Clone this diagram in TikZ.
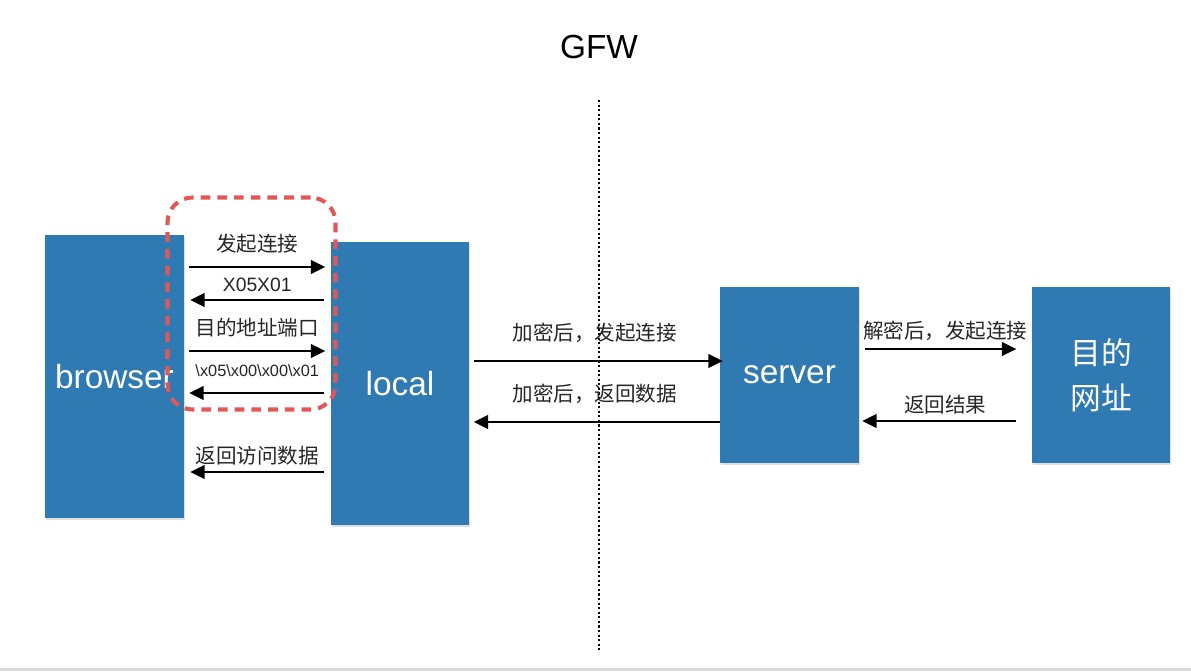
\documentclass[tikz,border=0pt]{standalone}
\usepackage{fontspec}
\setmainfont{Liberation Sans}
\newfontfamily\cjk{Noto Sans CJK SC}
\usetikzlibrary{arrows.meta,positioning,shadows}
\definecolor{boxblue}{RGB}{47,122,178}
\definecolor{dashred}{RGB}{226,88,86}

\begin{document}
\begin{tikzpicture}[node distance=3cm,on grid,
  box/.style={fill=boxblue,text=white,inner sep=0pt,minimum width=2.77cm,font=\fontsize{19}{23}\selectfont,
    drop shadow={opacity=0.25,shadow xshift=0.5pt,shadow yshift=-0.9pt}},
  arr/.style={line width=1.5pt,-{Triangle[length=2.9mm,width=2.7mm]}},
  lbl/.style={text=black!85,font=\cjk\fontsize{11.7}{14}\selectfont},
  hex/.style={text=black!85,font=\fontsize{11}{13}\selectfont},
  hilite/.style={draw=dashred,line width=2.3pt,dash pattern=on 5.5pt off 4pt,rounded corners=0.5cm}]
   \useasboundingbox (0,0) rectangle (23.82,-13.42);
   \fill[black!14] (0,-13.35) rectangle (23.82,-13.42);
   \node[font=\fontsize{19}{23}\selectfont] (gfw) at (11.98,-0.94) {GFW};
   \coordinate (gtop) at (11.98,-2.0);
   \coordinate (gbot) at (11.98,-13.0);
   \draw[line width=1.1pt,dash pattern=on 1.2pt off 1.4pt] (gtop) -- (gbot);
   \node[box,minimum height=5.66cm] (browser) at (2.29,-7.53) {browser};
   \node[box,minimum height=5.66cm] (local) [below right=0.14cm and 5.71cm of browser] {local};
   \node[box,minimum height=3.52cm,text height=1em,text depth=0pt] (server) [above right=0.17cm and 7.79cm of local] {server};
   \node[box,minimum height=3.52cm,align=center,font=\cjk\fontsize{17.5}{25.5}\selectfont] (target) [right=6.23cm of server] {目的\\网址};
   \node[hilite,minimum width=3.36cm,minimum height=4.24cm] (hl) at (5.03,-6.07) {};
   \coordinate (r1) at (0,-5.34);
   \coordinate (r2) at (0,-6.00);
   \coordinate (r3) at (0,-7.02);
   \coordinate (r4) at (0,-7.86);
   \coordinate (r5) at (0,-9.44);
   \coordinate (m1) at (0,-7.22);
   \coordinate (m2) at (0,-8.44);
   \coordinate (s1) at (0,-6.98);
   \coordinate (s2) at (0,-8.42);
   \draw[arr,shorten <=1mm,shorten >=1mm] (browser.east |- r1) -- node[lbl,above=1.25mm] {发起连接} (local.west |- r1);
   \draw[arr,shorten <=1.2mm,shorten >=1.2mm] (local.west |- r2) -- node[hex,above=0.3mm] {X05X01} (browser.east |- r2);
   \draw[arr,shorten <=1mm,shorten >=1mm] (browser.east |- r3) -- node[lbl,above=1.25mm] {目的地址端口} (local.west |- r3);
   \draw[arr,shorten <=1.2mm,shorten >=1mm] (local.west |- r4) -- node[text=black!85,font=\fontsize{9.3}{11}\selectfont,above=1.9mm] {\textbackslash x05\textbackslash x00\textbackslash x00\textbackslash x01} (browser.east |- r4);
   \draw[arr,shorten <=1.2mm,shorten >=1.2mm] (local.west |- r5) -- node[lbl,above=0mm] {返回访问数据} (browser.east |- r5);
   \draw[arr,shorten <=0.8mm,shorten >=-0.6mm] (local.east |- m1) -- node[lbl,above=2.2mm] {加密后，发起连接} (server.west |- m1);
   \draw[arr,shorten >=0.8mm] (server.west |- m2) -- node[lbl,above=2.2mm] {加密后，返回数据} (local.east |- m2);
   \draw[arr,shorten <=1.2mm,shorten >=3mm] (server.east |- s1) -- node[lbl,above=0.3mm] {解密后，发起连接} (target.west |- s1);
   \draw[arr,shorten <=3mm,shorten >=0.6mm] (target.west |- s2) -- node[lbl,above=0mm] {返回结果} (server.east |- s2);
\end{tikzpicture}
\end{document}
